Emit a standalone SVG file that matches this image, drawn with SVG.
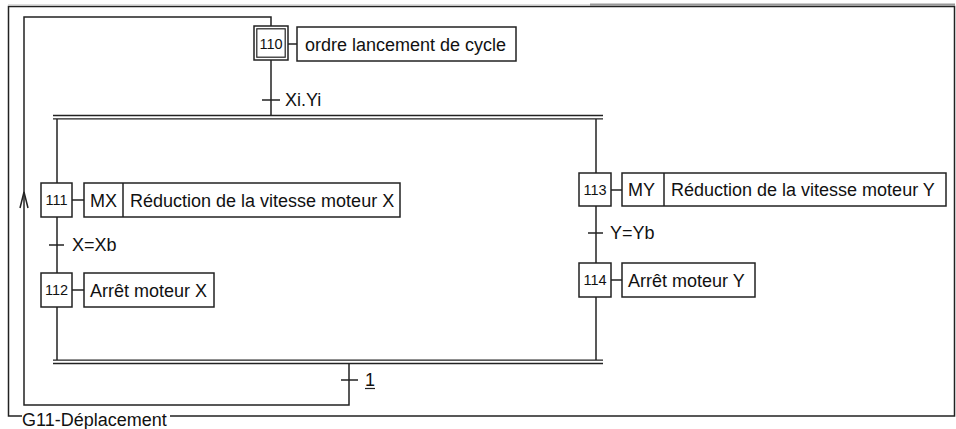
<svg xmlns="http://www.w3.org/2000/svg" width="956" height="429" viewBox="0 0 956 429">
<style>
.ln{fill:none;stroke:#222;stroke-width:1.5}
.bx{fill:#fff;stroke:#222;stroke-width:1.5}
.t{font-family:"Liberation Sans",Arial,sans-serif;font-size:18px;fill:#111}
.n{font-family:"Liberation Sans",Arial,sans-serif;font-size:14.5px;fill:#111;text-anchor:middle}
.dbl{fill:none;stroke:#222;stroke-width:1.3}
</style>
<rect width="956" height="429" fill="#fff"/>
<g id="ruler">
<line x1="8" y1="4.5" x2="590" y2="4.5" stroke="#ddd" stroke-width="1"/>
<line x1="590" y1="4.5" x2="955" y2="4.5" stroke="#999" stroke-width="2"/>
</g>
<g id="frame">
<path class="ln" d="M22,416 H8.5 V6.5 H954.5 V416 H170" stroke-width="1.6"/>
<text class="t" x="22" y="425.5">G11-Déplacement</text>
</g>
<g id="connectors">
<path class="ln" d="M349,363 V405 H24 V17 H271 V26"/>
<path class="ln" d="M20,208 L24,192 L28,208"/>
<line class="ln" x1="271" y1="60" x2="271" y2="116"/>
<line class="ln" x1="262" y1="100" x2="280" y2="100"/>
<text class="t" x="285" y="106">Xi.Yi</text>
<line class="dbl" x1="53" y1="115.5" x2="603" y2="115.5"/>
<line class="dbl" x1="53" y1="118.8" x2="603" y2="118.8"/>
<line class="ln" x1="57" y1="119" x2="57" y2="360"/>
<line class="ln" x1="596" y1="119" x2="596" y2="360"/>
<line class="ln" x1="49" y1="245" x2="64" y2="245"/>
<text class="t" x="72" y="251">X=Xb</text>
<line class="ln" x1="588" y1="233" x2="603" y2="233"/>
<text class="t" x="610" y="239">Y=Yb</text>
<line class="dbl" x1="53" y1="360.2" x2="603" y2="360.2"/>
<line class="dbl" x1="53" y1="363.5" x2="603" y2="363.5"/>
<line class="ln" x1="341" y1="380" x2="358" y2="380"/>
<text class="t" x="365" y="386">1</text>
<line class="ln" x1="365" y1="388.5" x2="375" y2="388.5" style="stroke-width:1.2"/>
</g>
<g id="step110">
<rect class="bx" x="254" y="26" width="34" height="34"/>
<rect class="bx" x="256.8" y="28.8" width="28.4" height="28.4" style="stroke-width:1.2"/>
<text class="n" x="271" y="49">110</text>
<line class="ln" x1="288" y1="44" x2="297" y2="44"/>
<rect class="bx" x="297" y="27" width="219" height="34"/>
<text class="t" x="305" y="50.5">ordre lancement de cycle</text>
</g>
<g id="step111">
<rect class="bx" x="41" y="183" width="31" height="34"/>
<text class="n" x="56.5" y="205">111</text>
<line class="ln" x1="72" y1="200" x2="84" y2="200"/>
<rect class="bx" x="84" y="183" width="316" height="34"/>
<line class="ln" x1="123" y1="183" x2="123" y2="217"/>
<text class="t" x="90" y="206.5">MX</text>
<text class="t" x="130" y="206.5">Réduction de la vitesse moteur X</text>
</g>
<g id="step112">
<rect class="bx" x="41" y="273" width="31" height="34"/>
<text class="n" x="56.5" y="295">112</text>
<line class="ln" x1="72" y1="290" x2="84" y2="290"/>
<rect class="bx" x="84" y="273" width="130" height="34"/>
<text class="t" x="90" y="296.5">Arrêt moteur X</text>
</g>
<g id="step113">
<rect class="bx" x="579" y="173" width="32" height="33"/>
<text class="n" x="595" y="194.5">113</text>
<line class="ln" x1="611" y1="190" x2="622" y2="190"/>
<rect class="bx" x="622" y="173" width="324" height="33"/>
<line class="ln" x1="664" y1="173" x2="664" y2="206"/>
<text class="t" x="628" y="196">MY</text>
<text class="t" x="671" y="196">Réduction de la vitesse moteur Y</text>
</g>
<g id="step114">
<rect class="bx" x="579" y="263" width="32" height="34"/>
<text class="n" x="595" y="285">114</text>
<line class="ln" x1="611" y1="280" x2="622" y2="280"/>
<rect class="bx" x="622" y="263" width="133" height="34"/>
<text class="t" x="628" y="286.5">Arrêt moteur Y</text>
</g>
</svg>
